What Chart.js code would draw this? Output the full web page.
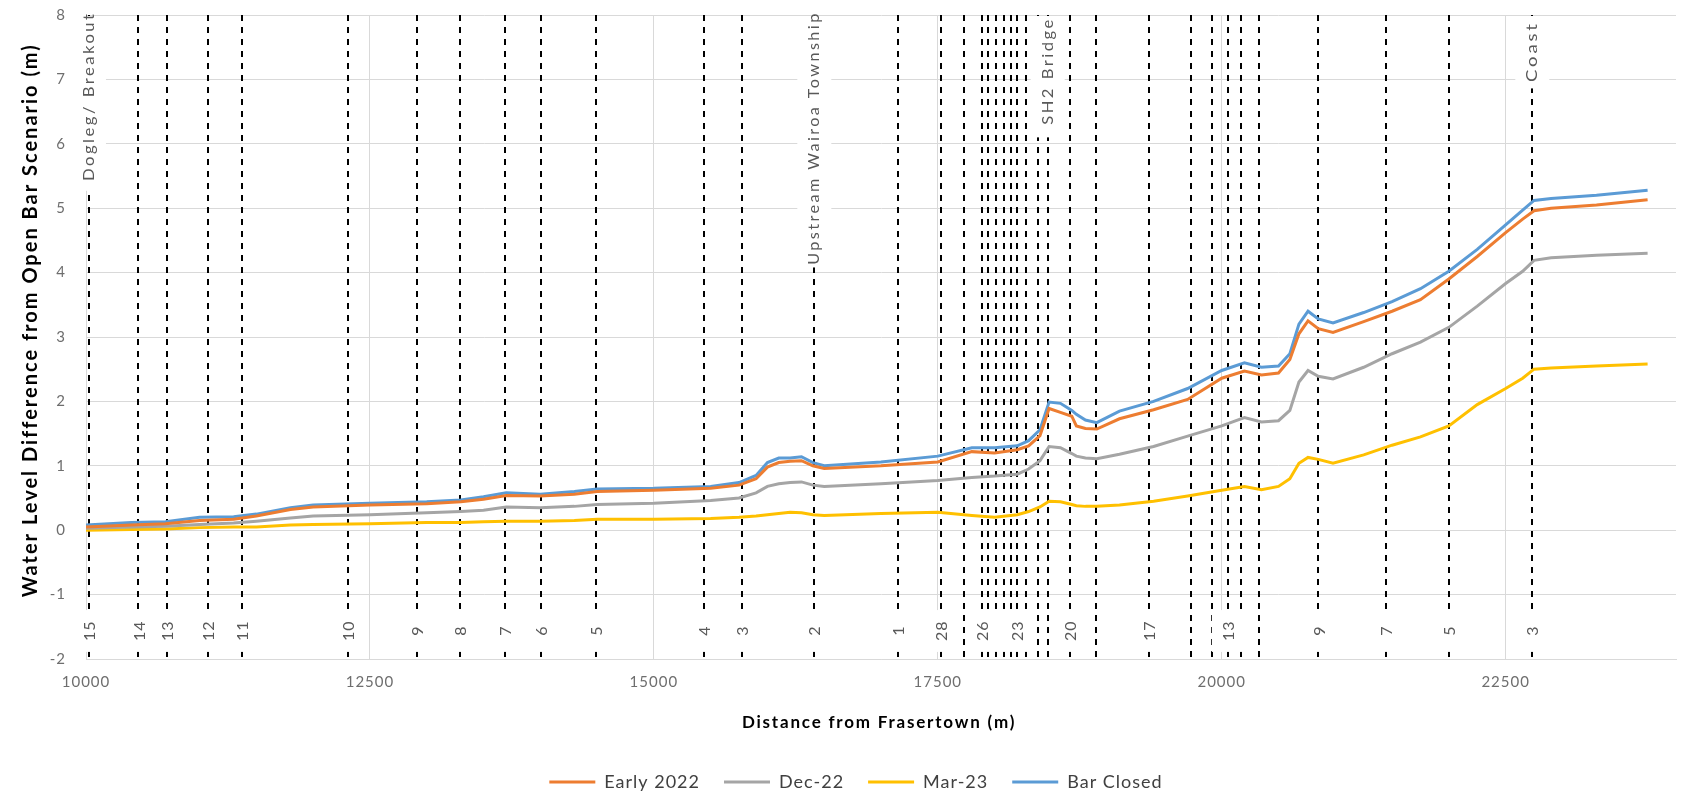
<!DOCTYPE html>
<html><head><meta charset="utf-8">
<script src="https://cdn.jsdelivr.net/npm/chart.js@4.4.1/dist/chart.umd.min.js"></script>
<style>html,body{margin:0;padding:0;background:#fff}#wrap{width:1688px;height:794px}</style>
</head><body><div id="wrap"><canvas id="c" width="1688" height="794"></canvas></div>
<script>
// ---------- data ----------
const distances = [10000,10400,10700,11000,11300,11500,11800,12000,12500,13000,
  13300,13500,13700,14000,14300,14500,15000,15500,15750,15900,
  16000,16100,16200,16300,16400,16500,17000,17500,17800,18000,
  18200,18300,18400,18480,18580,18680,18720,18800,18900,19100,
  19400,19700,20000,20200,20350,20500,20600,20680,20760,20850,
  20980,21250,21500,21750,22000,22250,22500,22650,22750,22900,
  23300,23750];
const early2022 = [0.05,0.08,0.10,0.15,0.17,0.22,0.32,0.36,0.39,0.41,
  0.44,0.48,0.54,0.53,0.56,0.60,0.62,0.65,0.70,0.80,
  0.98,1.05,1.07,1.08,1.00,0.96,1.00,1.06,1.22,1.20,
  1.25,1.31,1.47,1.89,1.83,1.77,1.62,1.58,1.57,1.73,
  1.87,2.03,2.36,2.47,2.41,2.44,2.65,3.05,3.25,3.13,
  3.07,3.24,3.40,3.58,3.90,4.25,4.62,4.83,4.96,5.00,
  5.05,5.13];
const dec22 = [0.03,0.05,0.06,0.09,0.11,0.14,0.19,0.22,0.24,0.27,
  0.29,0.31,0.36,0.35,0.37,0.40,0.42,0.46,0.50,0.58,
  0.68,0.72,0.74,0.75,0.70,0.68,0.72,0.77,0.82,0.84,
  0.87,0.95,1.08,1.30,1.28,1.19,1.15,1.12,1.11,1.18,
  1.30,1.46,1.62,1.75,1.68,1.70,1.86,2.30,2.48,2.39,
  2.35,2.53,2.74,2.92,3.15,3.48,3.83,4.02,4.19,4.23,
  4.27,4.30];
const mar23 = [0.00,0.01,0.02,0.04,0.05,0.05,0.08,0.09,0.10,0.12,
  0.12,0.13,0.14,0.14,0.15,0.17,0.17,0.18,0.20,0.22,
  0.24,0.26,0.28,0.27,0.24,0.23,0.26,0.28,0.23,0.20,
  0.24,0.29,0.36,0.45,0.44,0.40,0.38,0.37,0.37,0.39,
  0.45,0.53,0.62,0.68,0.63,0.68,0.80,1.04,1.13,1.10,
  1.04,1.17,1.32,1.45,1.62,1.95,2.20,2.36,2.50,2.52,
  2.55,2.58];
const barClosed = [0.08,0.12,0.13,0.20,0.21,0.25,0.35,0.39,0.42,0.44,
  0.47,0.52,0.58,0.56,0.60,0.64,0.65,0.68,0.74,0.85,
  1.05,1.12,1.12,1.14,1.05,1.00,1.06,1.15,1.28,1.28,
  1.31,1.39,1.56,1.99,1.97,1.86,1.80,1.71,1.67,1.85,
  2.00,2.20,2.48,2.60,2.53,2.55,2.74,3.20,3.40,3.28,
  3.22,3.38,3.55,3.75,4.02,4.36,4.74,4.97,5.12,5.15,
  5.20,5.28];
const seriesNames = ['Early 2022','Dec-22','Mar-23','Bar Closed'];
const xTickValues = [10000,12500,15000,17500,20000,22500];
const yTickValues = [-2,-1,0,1,2,3,4,5,6,7,8];
const xAxisTitle = 'Distance from Frasertown (m)';
const yAxisTitle = 'Water Level Difference from Open Bar Scenario (m)';
// cross-section lines (distance) and their labels
const sectionDistances = [10026,10461,10716,11077,11371,12307,12912,13293,13692,14009,14488,15442,15779,16413,17152,
  17526,17734,17887,17942,18010,18086,18145,18195,18277,18383,18468,18662,18896,19357,19727,19917,20058,20167,20328,
  20851,21447,22002,22735];
const sectionLabels = ['15','14','13','12','11','10','9','8','7','6','5','4','3','2','1',
  '28','','26','','','','','23','','','','20','','17','','','13','','',
  '9','7','5','3'];
const featureDistances = [10026,16413,18468,22735];
const featureLabels = ['Dogleg/ Breakout','Upstream Wairoa Township','SH2 Bridge','Coast'];

// ---------- layout / styles ----------
const featureLayout = {        // label centre and box bottom in axis units, text length in px
  centres: [6.72,6.07,7.11,7.41],
  boxBottoms: [5.27,4.08,6.1,6.86],
  lengths: [167,251,105,58]
};
const colors = ['#ED7D31','#A5A5A5','#FFC000','#5B9BD5'];
const FONT = 'Lato, "Open Sans", sans-serif';

function setSpacing(ctx, v) { try { ctx.letterSpacing = v; } catch (e) {} }

const sectionPlugin = {
  id: 'sections',
  beforeUpdate(chart) { setSpacing(chart.ctx, '1px'); },
  beforeLayout(chart) { setSpacing(chart.ctx, '1px'); },
  beforeDraw(chart) { setSpacing(chart.ctx, '1px'); },
  beforeDatasetsDraw(chart) {
    const {ctx, scales: {x, y}} = chart;
    const top = y.getPixelForValue(8), bottom = y.getPixelForValue(-2);
    ctx.save();
    ctx.strokeStyle = '#000';
    ctx.lineWidth = 2;
    ctx.setLineDash([6, 6]);
    sectionDistances.forEach(d => {
      const px = Math.round(x.getPixelForValue(d));
      ctx.beginPath(); ctx.moveTo(px, top); ctx.lineTo(px, bottom); ctx.stroke();
    });
    ctx.setLineDash([]);
    ctx.fillStyle = '#fff';
    const bTop = y.getPixelForValue(-1.24), bBot = y.getPixelForValue(-1.89);
    sectionLabels.forEach((lab, i) => {
      if (!lab) return;
      const px = x.getPixelForValue(sectionDistances[i]);
      ctx.fillRect(px - 16.5, bTop, 33, bBot - bTop);
    });
    featureLabels.forEach((lab, i) => {
      const px = x.getPixelForValue(featureDistances[i]);
      const b = y.getPixelForValue(featureLayout.boxBottoms[i]);
      ctx.fillRect(px - 17, top + 1, 34, b - top - 1);
    });
    ctx.fillStyle = '#595959';
    ctx.textAlign = 'center';
    ctx.textBaseline = 'middle';
    ctx.font = '16px ' + FONT;
    setSpacing(ctx, '1px');
    const cy = y.getPixelForValue(-1.56);
    sectionLabels.forEach((lab, i) => {
      if (!lab) return;
      const px = x.getPixelForValue(sectionDistances[i]);
      ctx.save(); ctx.translate(px + 1, cy); ctx.rotate(-Math.PI / 2); ctx.fillText(lab, 0, 0); ctx.restore();
    });
    ctx.font = '16px ' + FONT;
    setSpacing(ctx, '2.4px');
    ctx.textAlign = 'left';
    featureLabels.forEach((lab, i) => {
      const px = x.getPixelForValue(featureDistances[i]);
      const py = y.getPixelForValue(featureLayout.centres[i]);
      const w = ctx.measureText(lab).width - 2.4;
      const L = featureLayout.lengths[i];
      ctx.save(); ctx.translate(px, py); ctx.rotate(-Math.PI / 2);
      ctx.scale(L / w, 1);
      ctx.fillText(lab, -w / 2, 0);
      ctx.restore();
    });
    ctx.restore();
  },
  afterDraw(chart) {
    const {ctx, scales: {x, y}} = chart;
    ctx.save();
    ctx.fillStyle = '#000';
    ctx.textAlign = 'center';
    ctx.textBaseline = 'middle';
    ctx.font = 'bold 17px ' + FONT;
    setSpacing(ctx, '1.8px');
    ctx.fillText(xAxisTitle, (x.left + x.right) / 2 - 2, y.bottom + 64);
    ctx.font = 'bold 20px ' + FONT;
    setSpacing(ctx, '2.0px');
    ctx.save();
    ctx.translate(31, y.getPixelForValue(3.26));
    ctx.rotate(-Math.PI / 2);
    ctx.fillText(yAxisTitle, 0, 0);
    ctx.restore();
    ctx.restore();
    setSpacing(ctx, '1px');
  }
};

const seriesValues = [early2022, dec22, mar23, barClosed];
const datasets = seriesNames.map((name, k) => ({
  label: name,
  data: distances.map((d, i) => ({x: d, y: seriesValues[k][i]})),
  borderColor: colors[k],
  backgroundColor: colors[k],
  borderWidth: 3,
  pointRadius: 0,
  tension: 0,
  fill: false
}));

new Chart(document.getElementById('c'), {
  type: 'line',
  data: {datasets},
  plugins: [sectionPlugin],
  options: {
    responsive: false,
    animation: false,
    devicePixelRatio: 1,
    layout: {padding: {left: 36, right: 12, top: 15, bottom: 0}},
    plugins: {
      legend: {
        position: 'bottom',
        maxHeight: 45,
        labels: {
          usePointStyle: true, pointStyle: 'line', pointStyleWidth: 46,
          padding: 24, color: '#404040',
          font: {family: FONT, size: 18}
        }
      },
      tooltip: {enabled: false}
    },
    scales: {
      x: {
        type: 'linear', min: 10000, max: 24000, bounds: 'data',
        afterFit: s => { s.height = 90; },
        afterBuildTicks: s => { s.ticks = xTickValues.map(v => ({value: v})); },
        ticks: {stepSize: 2500, includeBounds: false, padding: 14, color: '#6e6e6e',
          font: {family: FONT, size: 15}, callback: v => String(v), maxRotation: 0, autoSkip: false},
        grid: {color: '#d9d9d9', drawTicks: false, lineWidth: 1},
        border: {color: '#d9d9d9'},
        title: {display: false, text: xAxisTitle}
      },
      y: {
        type: 'linear', min: -2, max: 8,
        afterFit: s => { s.width = 50; s.paddingTop = 0; s.paddingBottom = 0; },
        afterBuildTicks: s => { s.ticks = yTickValues.map(v => ({value: v})); },
        ticks: {stepSize: 1, padding: 20, color: '#6e6e6e', font: {family: FONT, size: 15}},
        grid: {color: '#d9d9d9', drawTicks: false, lineWidth: 1},
        border: {color: '#d9d9d9'},
        title: {display: false, text: yAxisTitle}
      }
    }
  }
});
</script></body></html>
